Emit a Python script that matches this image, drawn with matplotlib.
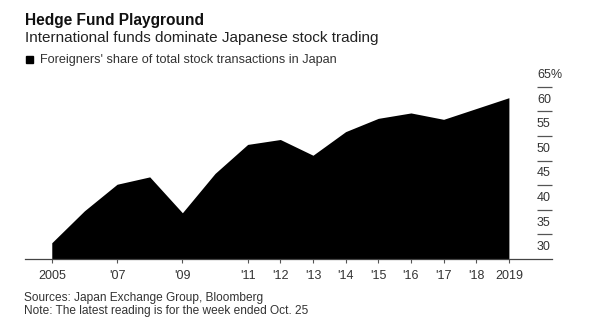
import matplotlib
matplotlib.use("Agg")
import matplotlib.pyplot as plt

plt.rcParams.update({"font.family": ["Liberation Sans", "DejaVu Sans"]})

# data: foreigners' share of total stock transactions in Japan (%)
years = [2005, 2006, 2007, 2008, 2009, 2010, 2011, 2012, 2013, 2014, 2015, 2016, 2017, 2018, 2019]
share = [33.3, 39.8, 45.2, 46.7, 39.4, 47.4, 53.3, 54.3, 51.1, 55.9, 58.6, 59.7, 58.4, 60.6, 62.8]
tick_years = [2005, 2007, 2009, 2011, 2012, 2013, 2014, 2015, 2016, 2017, 2018, 2019]
tick_labels = ["2005", "'07", "'09", "'11", "'12", "'13", "'14", "'15", "'16", "'17", "'18", "2019"]
y_ticks = [30, 35, 40, 45, 50, 55, 60, 65]

W, H = 592, 335
TXT = "#333333"
fig = plt.figure(figsize=(W / 100, H / 100), dpi=100)
fig.patch.set_facecolor("white")

# axes box in pixels: x 25..552, y 80..259 (from top)
ax = fig.add_axes([25 / W, (H - 259) / H, (552 - 25) / W, (259 - 80) / H])
ax.set_xlim(2004.18, 2020.32)
ax.set_ylim(30, 66.4)
for s in ["top", "right", "left"]:
    ax.spines[s].set_visible(False)
ax.spines["bottom"].set_color("#444444")
ax.spines["bottom"].set_linewidth(0.9)

ax.fill_between(years, share, 30, color="black", lw=0, zorder=2)

ax.set_xticks(tick_years)
ax.set_xticklabels(tick_labels, fontsize=9, color=TXT)
ax.tick_params(axis="x", length=3, width=0.8, color="#555555", pad=5)
ax.set_yticks([])

# right-side value labels sitting above short tick lines
ax.hlines(y_ticks[1:], 2019.85, 2020.31, color="#555555", lw=0.9, clip_on=False)
for v in y_ticks:
    lab = f"{v}%" if v == 65 else str(v)
    ax.text(2019.86, v + 2.4, lab, ha="left", va="center", fontsize=9,
            color=TXT, clip_on=False)

# header
fig.text(25 / W, 1 - 25.3 / H, "Hedge Fund Playground", fontsize=11.2,
         fontweight="bold", va="baseline", ha="left", color="#111111")
fig.text(25 / W, 1 - 41.7 / H, "International funds dominate Japanese stock trading",
         fontsize=11, va="baseline", ha="left", color="#222222")
fig.patches.append(plt.Rectangle((26 / W, 1 - 63 / H), 7 / W, 7 / H,
                                 transform=fig.transFigure, color="black"))
fig.text(40 / W, 1 - 63.3 / H, "Foreigners' share of total stock transactions in Japan",
         fontsize=9.1, va="baseline", ha="left", color=TXT)

# footer
fig.text(24 / W, 1 - 300.7 / H, "Sources: Japan Exchange Group, Bloomberg",
         fontsize=8.6, va="baseline", ha="left", color=TXT)
fig.text(24 / W, 1 - 314 / H, "Note: The latest reading is for the week ended Oct. 25",
         fontsize=8.6, va="baseline", ha="left", color=TXT)

fig.savefig("out.png", dpi=100)
